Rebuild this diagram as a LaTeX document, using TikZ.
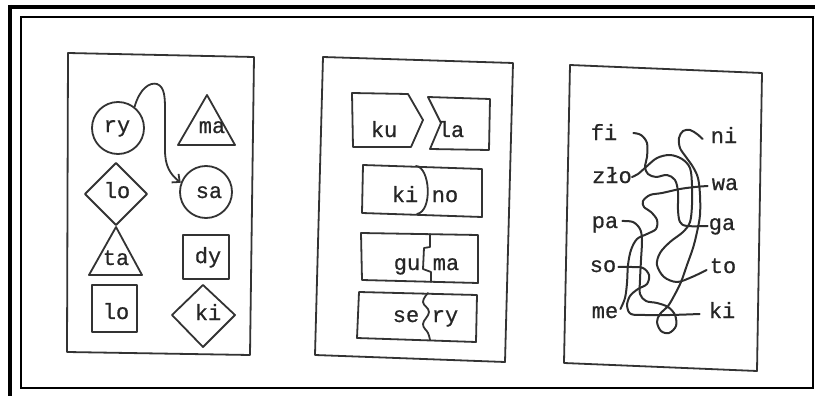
\documentclass[tikz,border=0pt]{standalone}
\usepackage{fontspec}
\newfontfamily\tw{Liberation Mono}[FakeBold=0.7]
\usetikzlibrary{arrows.meta}
\begin{document}
\begin{tikzpicture}[x=1pt,y=-1pt,
  pen/.style={draw=black!80, line width=1.8pt, line join=round, line cap=round},
  wire/.style={draw=black!82, line width=2pt, line join=round, line cap=round},
  lab/.style={font=\tw\fontsize{22}{22}\selectfont, text=black!85, inner sep=0pt, anchor=base},
  ring/.style={pen, circle, minimum size=52pt, inner sep=0pt}]
\useasboundingbox (0,0) rectangle (815,396);
% outer frame
\draw[line width=4pt] (8,7) -- (815,7);
\draw[line width=4pt] (10,5) -- (10,396);
\draw[line width=2pt] (21,17) rectangle (813,388);

% ---------- panel 1 ----------
\draw[pen] (68,53) -- (254,57) -- (250,355) -- (67,352) -- cycle;
\node[ring] (c1) at (118,128) {};
\node[lab] (ry) at (117,132) {ry};
\draw[pen] (207,95) -- (235,145) -- (178,145) -- cycle;
\node[lab] (ma) at (212,133) {ma};
\node[ring] (c2) at (206,192) {};
\node[lab] (sa) at (209,198) {sa};
\draw[pen] (85,194) -- (116,163) -- (147,194) -- (116,225) -- cycle;
\node[lab] (lo1) at (117,198) {lo};
\draw[pen] (116,227) -- (142,275) -- (89,275) -- cycle;
\node[lab] (ta) at (116,265) {ta};
\draw[pen] (183,235) rectangle (229,279);
\node[lab] (dy) at (208,263) {dy};
\draw[pen] (92,285) rectangle (137,332);
\node[lab] (lo2) at (116,319) {lo};
\draw[pen] (172,315) -- (203,285) -- (235,315) -- (203,347) -- cycle;
\node[lab] (ki1) at (208,320) {ki};
\draw[pen, -{Straight Barb[length=6pt,width=11pt]}]
  (c1.52) .. controls (140,88) and (150,82) .. (157,84)
  .. controls (165,87) and (165,98) .. (165,112) -- (165,150)
  .. controls (165,166) and (170,174) .. (c2.160);

% ---------- panel 2 ----------
\draw[pen] (323,57) -- (513,63) -- (505,362) -- (315,355) -- cycle;
\draw[pen] (352,93) -- (408,94) -- (423,120) -- (411,147) -- (353,147) -- cycle;
\node[lab] (ku) at (384,137) {ku};
\draw[pen] (428,97) -- (490,99) -- (489,150) -- (430,149) -- (441,123) -- cycle;
\node[lab] (la) at (451,137) {la};
\draw[pen] (363,165) -- (482,169) -- (482,217) -- (362,213) -- cycle;
\draw[pen] (416,166) .. controls (430,167) and (433,211) .. (417,214);
\node[lab] (ki2) at (405,202) {ki};
\node[lab] (no) at (445,202) {no};
\draw[pen] (361,233) -- (478,235) -- (478,283) -- (362,280) -- cycle;
\draw[pen] (430,234) -- (430,247) -- (424,248) -- (423,269) -- (431,272) -- (431,282);
\node[lab] (gu) at (407,270) {gu};
\node[lab] (ma2) at (446,270) {ma};
\draw[pen] (359,292) -- (477,295) -- (476,342) -- (357,338) -- cycle;
\draw[pen] plot[smooth, tension=0.7] coordinates {(428,293) (423,302) (429,312) (423,324) (428,333) (430,340)};
\node[lab] (se) at (406,322) {se};
\node[lab] (ry2) at (445,322) {ry};

% ---------- panel 3 ----------
\draw[pen] (570,65) -- (762,73) -- (757,371) -- (564,363) -- cycle;
\node[lab] (fi) at (604,140) {fi};
\node[lab] (zlo) at (612,183) {zło};
\node[lab] (pa) at (605,228) {pa};
\node[lab] (so) at (603,272) {so};
\node[lab] (me) at (605,318) {me};
\node[lab] (ni) at (724,143) {ni};
\node[lab] (wa) at (725,190) {wa};
\node[lab] (ga) at (722,230) {ga};
\node[lab] (to) at (723,273) {to};
\node[lab] (ki3) at (722,318) {ki};

\draw[wire] plot[smooth, tension=0.55] coordinates {
  ([xshift=16pt,yshift=7pt]fi.base east) (641,135) (647,143) (647,157) (645,167)
  (648,174) (656,177) (667,175) (675,180) (678,192) (678,210) (680,222) (687,226)
  ([xshift=-1pt,yshift=4pt]ga.base west)};
\draw[wire] plot[smooth, tension=0.55] coordinates {
  ([yshift=6pt]zlo.base east) (638,174) (646,167) (657,158) (670,155) (682,159)
  (690,168) (692,185) (692,205) (690,222) (683,232) (670,242) (660,253) (657,265)
  (664,277) (677,282) (692,277) ([xshift=-3pt,yshift=3pt]to.base west)};
\draw[wire] plot[smooth, tension=0.55] coordinates {
  ([xshift=-8pt,yshift=4pt]ni.base west) (697,134) (690,130) (683,131) (679,138)
  (680,148) (686,157) (693,167) (698,178) (700,195) (700,215) (697,232) (693,248)
  (687,265) (681,282) (674,296) (668,306) (660,314) (657,322) (661,331) (669,333)
  (676,326) (675,315) (668,307) (657,303) (646,301) (640,294) (640,280) (641,260)
  (642,240) (640,229) (633,222) ([xshift=4pt,yshift=7pt]pa.base east)};
\draw[wire] plot[smooth, tension=0.55] coordinates {
  ([xshift=-4pt,yshift=4pt]wa.base west) (695,187) (680,189) (662,193) (650,195)
  (643,201) (644,207) (651,212) (657,220) (656,229) (647,234) (637,239) (631,250)
  (628,265) (627,283) (625,298) ([xshift=2pt,yshift=9pt]me.base east)};
\draw[wire] plot[smooth, tension=0.55] coordinates {
  ([xshift=2pt,yshift=5pt]so.base east) (632,267) (643,268) (649,275) (647,284)
  (638,289) (630,296) (627,306) (631,314) (645,315) (670,315)
  ([xshift=-9pt,yshift=4pt]ki3.base west)};
\end{tikzpicture}
\end{document}
